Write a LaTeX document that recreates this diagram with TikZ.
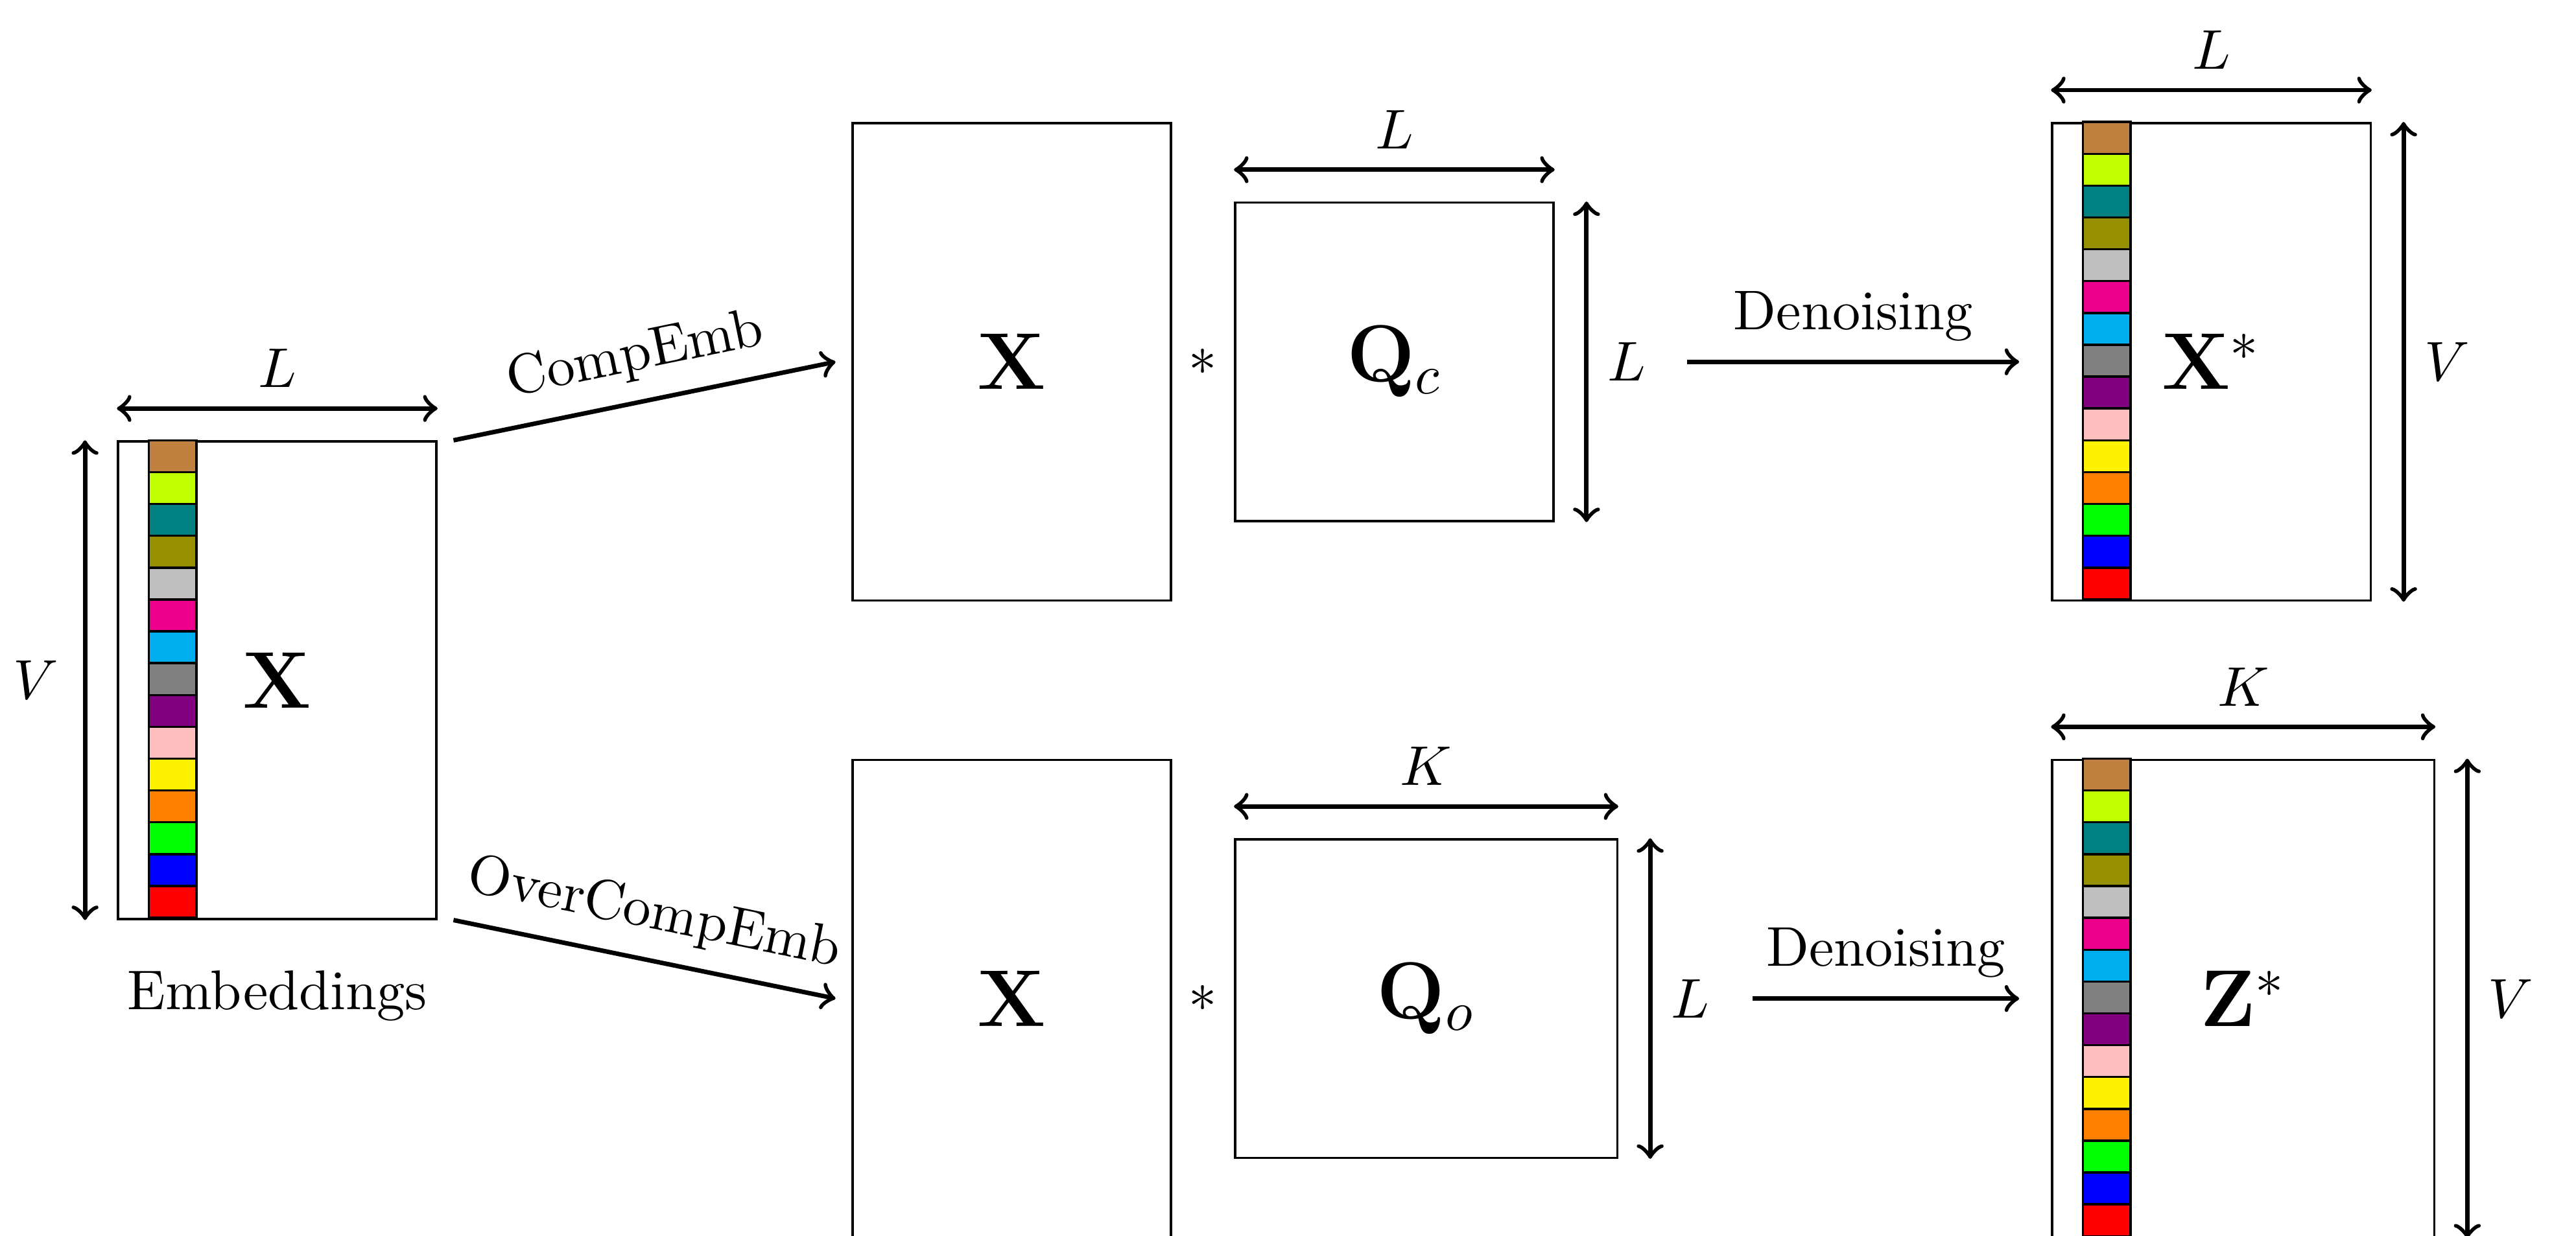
\documentclass[tikz,border=0pt]{standalone}
\definecolor{k0}{HTML}{BF8040}
\definecolor{k1}{HTML}{BFFF00}
\definecolor{k2}{HTML}{008080}
\definecolor{k3}{HTML}{968F00}
\definecolor{k4}{HTML}{BFBFBF}
\definecolor{k5}{HTML}{EC008C}
\definecolor{k6}{HTML}{00AEEF}
\definecolor{k7}{HTML}{808080}
\definecolor{k8}{HTML}{800080}
\definecolor{k9}{HTML}{FFBFBF}
\definecolor{k10}{HTML}{FFF200}
\definecolor{k11}{HTML}{FF8000}
\definecolor{k12}{HTML}{00FF00}
\definecolor{k13}{HTML}{0000FF}
\definecolor{k14}{HTML}{FF0000}
\begin{document}
\begin{tikzpicture}[
  mat/.style={draw, line width=0.4pt, inner sep=0pt},
  dim/.style={thick, <->},
  arr/.style={thick, ->},
  cell/.style={draw, line width=0.4pt}
]
\useasboundingbox (0,0.012) rectangle (16.177,7.773);

% matrices
\node[mat, minimum width=2cm, minimum height=3cm] (emb) at (1.741,3.5) {\Large$\mathbf{X}$};
\node[mat, minimum width=2cm, minimum height=3cm] (xt) at (6.354,5.5) {\Large$\mathbf{X}$};
\node[mat, minimum width=2cm, minimum height=2cm] (qc) at (8.756,5.5) {\Large$\mathbf{Q}_c$};
\node[mat, minimum width=2cm, minimum height=3cm] (xs) at (13.887,5.5) {\Large$\mathbf{X}^*$};
\node[mat, minimum width=2cm, minimum height=3cm] (xb) at (6.354,1.5) {\Large$\mathbf{X}$};
\node[mat, minimum width=2.4cm, minimum height=2cm] (qo) at (8.956,1.5) {\Large$\mathbf{Q}_o$};
\node[mat, minimum width=2.4cm, minimum height=3cm] (zs) at (14.087,1.5) {\Large$\mathbf{Z}^*$};

% colour columns
\foreach \i in {0,...,14} {
  \draw[cell, fill=k\i] ([xshift=0.2cm, yshift=-\i*0.2cm]emb.north west) rectangle ++(0.3,-0.2);
  \draw[cell, fill=k\i] ([xshift=0.2cm, yshift=-\i*0.2cm]xs.north west) rectangle ++(0.3,-0.2);
  \draw[cell, fill=k\i] ([xshift=0.2cm, yshift=-\i*0.2cm]zs.north west) rectangle ++(0.3,-0.2);
}

% embeddings label
\node[below=5.5pt] (embl) at (emb.south) {Embeddings};

% dimension arrows
\draw[dim] ([yshift=0.2cm]emb.north west) -- ([yshift=0.2cm]emb.north east) node[midway, above] (le) {$L$};
\draw[dim] ([xshift=-0.2cm]emb.north west) -- ([xshift=-0.2cm]emb.south west) node[midway, left=1pt] (ve) {$V$};

\draw[dim] ([yshift=0.2cm]qc.north west) -- ([yshift=0.2cm]qc.north east) node[midway, above] (lqct) {$L$};
\draw[dim] ([xshift=0.2cm]qc.north east) -- ([xshift=0.2cm]qc.south east) node[midway, right] (lqc) {$L$};

\draw[dim] ([yshift=0.2cm]xs.north west) -- ([yshift=0.2cm]xs.north east) node[midway, above] (lxs) {$L$};
\draw[dim] ([xshift=0.2cm]xs.north east) -- ([xshift=0.2cm]xs.south east) node[midway, right] (vxs) {$V$};

\draw[dim] ([yshift=0.2cm]qo.north west) -- ([yshift=0.2cm]qo.north east) node[midway, above] (kqo) {$K$};
\draw[dim] ([xshift=0.2cm]qo.north east) -- ([xshift=0.2cm]qo.south east) node[midway, right] (lqo) {$L$};

\draw[dim] ([yshift=0.2cm]zs.north west) -- ([yshift=0.2cm]zs.north east) node[midway, above] (kzs) {$K$};
\draw[dim] ([xshift=0.2cm]zs.north east) -- ([xshift=0.2cm]zs.south east) node[midway, right] (vzs) {$V$};

% products
\node (st) at (7.555,5.5) {$*$};
\node (sb) at (7.555,1.5) {$*$};

% flow arrows
\draw[arr] ([xshift=0.1cm]emb.north east) -- ([xshift=-0.1cm]xt.west) node[midway, above, sloped] {CompEmb};
\draw[arr] ([xshift=0.1cm]emb.south east) -- ([xshift=-0.1cm]xb.west) node[midway, above, sloped] {OverCompEmb};
\draw[arr] ([xshift=0.13cm]lqc.east) -- ([xshift=-0.2cm]xs.west) node[midway, above] {Denoising};
\draw[arr] ([xshift=0.14cm]lqo.east) -- ([xshift=-0.2cm]zs.west) node[midway, above] {Denoising};
\end{tikzpicture}
\end{document}
